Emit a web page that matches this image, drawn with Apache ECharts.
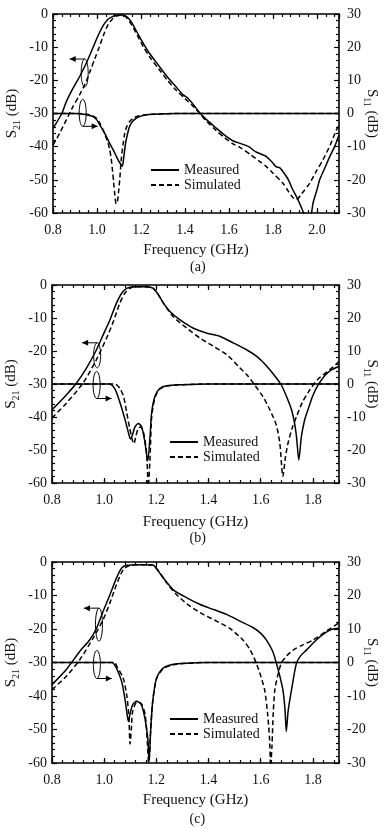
<!DOCTYPE html>
<html><head><meta charset="utf-8">
<script src="https://cdn.jsdelivr.net/npm/echarts/dist/echarts.min.js"></script>
<style>html,body{margin:0;padding:0;background:#fff}#c{width:387px;height:828px}</style>
</head><body><div id="c"></div>
<script>
// ---------- data (frequency GHz, dB) ----------
const panelLabels = ['(a)', '(b)', '(c)'];
const xMin = [0.8, 0.8, 0.8];
const xMax = [2.1, 1.9, 1.9];
const legendNames = ['Measured', 'Simulated'];
const s21Range = [-60, 0];
const s11Range = [-30, 30];

// panel (a)
const a_S21_meas = [[0.80,-34.5],[0.84,-30],[0.86,-26.5],[0.89,-22.5],[0.92,-19],[0.95,-15],[0.97,-12],[0.99,-8.8],[1.01,-5.8],[1.03,-3.3],[1.05,-1.6],[1.07,-0.8],[1.09,-0.4],[1.11,-0.3],[1.13,-0.6],[1.15,-1.8],[1.17,-4],[1.19,-6.5],[1.21,-8.8],[1.24,-12],[1.28,-15.5],[1.32,-19],[1.36,-22],[1.39,-24.3],[1.41,-25.2],[1.44,-27.5],[1.47,-30],[1.50,-32],[1.54,-34.3],[1.58,-36.5],[1.62,-38.3],[1.65,-39],[1.69,-40],[1.72,-41.5],[1.77,-43],[1.80,-45],[1.815,-46.1],[1.83,-46.3],[1.845,-47.5],[1.87,-50],[1.89,-53],[1.91,-55.5],[1.93,-58.5],[1.945,-61],[1.96,-64],[1.974,-60.5],[1.982,-57],[2.00,-53],[2.012,-50],[2.035,-46.5],[2.058,-43],[2.08,-40],[2.10,-36.5]];
const a_S21_sim = [[0.80,-39.5],[0.83,-36],[0.86,-32],[0.89,-28],[0.92,-24.5],[0.95,-20.5],[0.97,-17],[0.99,-13.5],[1.01,-10],[1.03,-6.3],[1.05,-3.3],[1.07,-1.5],[1.09,-0.6],[1.11,-0.4],[1.13,-0.8],[1.15,-2.5],[1.17,-4.8],[1.19,-7.3],[1.21,-9.8],[1.24,-13],[1.28,-16.5],[1.32,-20],[1.36,-23],[1.40,-25.5],[1.44,-28],[1.47,-30.2],[1.50,-32.5],[1.54,-35],[1.58,-37.3],[1.62,-39.2],[1.65,-40.2],[1.70,-42.5],[1.74,-44.5],[1.77,-46],[1.80,-48],[1.845,-51],[1.87,-53.5],[1.89,-55.3],[1.906,-56],[1.93,-54.2],[1.967,-51],[2.00,-47],[2.027,-44],[2.06,-39.5],[2.088,-35],[2.10,-33.5]];
const a_S11_meas = [[0.80,0],[0.90,0],[0.94,-0.2],[0.96,-0.5],[0.982,-0.9],[1.00,-2],[1.012,-3.4],[1.03,-5.3],[1.042,-6.9],[1.06,-9.3],[1.073,-10.9],[1.085,-12.5],[1.095,-13.9],[1.105,-15],[1.115,-15.9],[1.122,-13],[1.13,-8.9],[1.14,-5.8],[1.148,-3.9],[1.16,-2.5],[1.179,-1.4],[1.20,-0.8],[1.224,-0.4],[1.26,-0.2],[1.32,-0.05],[1.40,0],[2.10,0]];
const a_S11_sim = [[0.80,0],[0.92,0],[0.96,-0.3],[0.98,-0.7],[0.997,-1.4],[1.012,-2.8],[1.027,-4.9],[1.04,-7],[1.05,-8.9],[1.058,-11],[1.065,-13.9],[1.071,-17.5],[1.076,-21],[1.081,-24.5],[1.087,-27.2],[1.093,-26.5],[1.099,-23],[1.105,-18.5],[1.11,-14],[1.118,-9.5],[1.126,-6],[1.136,-3.8],[1.148,-2.4],[1.17,-1.2],[1.194,-0.7],[1.225,-0.35],[1.255,-0.2],[1.32,-0.05],[1.40,0],[2.10,0]];

// panel (b)
const b_S21_meas = [[0.80,-37.8],[0.855,-33.3],[0.894,-29.7],[0.932,-25.2],[0.97,-19.7],[0.996,-15.1],[1.022,-10.6],[1.047,-5.5],[1.067,-2.5],[1.086,-1],[1.112,-0.5],[1.163,-0.5],[1.188,-1],[1.208,-3],[1.227,-5.5],[1.253,-8.1],[1.291,-10.6],[1.342,-13.1],[1.394,-14.6],[1.445,-15.6],[1.496,-17.6],[1.547,-19.7],[1.586,-21.7],[1.61,-23.5],[1.635,-25.7],[1.66,-28.2],[1.679,-30.3],[1.70,-34],[1.718,-37.8],[1.73,-42],[1.737,-45.9],[1.746,-53],[1.756,-45.9],[1.768,-41],[1.781,-37.8],[1.80,-33.5],[1.82,-30.3],[1.845,-27.5],[1.871,-25.7],[1.90,-24.7]];
const b_S21_sim = [[0.80,-40.3],[0.855,-35.8],[0.919,-29.7],[0.97,-22.7],[1.009,-16.1],[1.035,-11.1],[1.06,-5.5],[1.079,-2.5],[1.099,-1],[1.125,-0.5],[1.163,-0.5],[1.188,-1],[1.208,-3],[1.227,-5.5],[1.265,-9.6],[1.317,-13.1],[1.368,-16.1],[1.419,-18.6],[1.471,-21.2],[1.519,-25],[1.55,-27.5],[1.577,-30.3],[1.61,-34],[1.635,-37.8],[1.66,-42.5],[1.673,-47.8],[1.685,-58],[1.695,-52],[1.705,-47.8],[1.72,-43.5],[1.737,-39.9],[1.76,-35.5],[1.788,-31.8],[1.82,-28.5],[1.864,-25.7],[1.90,-23.2]];
const b_S11_meas = [[0.80,0],[1.02,0],[1.041,-1.5],[1.06,-5.5],[1.079,-10.5],[1.092,-14.5],[1.101,-16.7],[1.11,-15],[1.118,-13],[1.131,-12],[1.144,-13],[1.156,-17.6],[1.167,-23.3],[1.176,-15.6],[1.182,-8.6],[1.195,-3.6],[1.214,-1.3],[1.24,-0.5],[1.30,-0.2],[1.40,0],[1.90,0]];
const b_S11_sim = [[0.80,0],[1.04,0],[1.06,-1.3],[1.075,-4],[1.086,-8.5],[1.098,-13.5],[1.108,-17],[1.114,-18.1],[1.121,-16],[1.13,-13.5],[1.14,-13],[1.153,-15.5],[1.163,-21.5],[1.169,-31],[1.176,-22],[1.182,-10],[1.195,-4],[1.214,-1.5],[1.24,-0.6],[1.30,-0.2],[1.40,0],[1.90,0]];

// panel (c)
const c_S21_meas = [[0.80,-36.6],[0.855,-32.1],[0.906,-26.7],[0.945,-23.2],[0.971,-19.7],[0.996,-14.7],[1.022,-9.8],[1.047,-4.8],[1.067,-1.8],[1.086,-1],[1.137,-0.8],[1.188,-1],[1.208,-2.8],[1.227,-4.8],[1.265,-8.3],[1.317,-10.7],[1.368,-12.7],[1.419,-14.2],[1.471,-15.7],[1.522,-17.7],[1.573,-19.7],[1.60,-21.3],[1.622,-23.3],[1.645,-26.5],[1.66,-30.2],[1.673,-34],[1.685,-38.2],[1.693,-44],[1.698,-50.6],[1.705,-44.5],[1.718,-38.2],[1.737,-30.2],[1.755,-27.8],[1.775,-26.3],[1.813,-23.3],[1.84,-21.5],[1.87,-20.2],[1.90,-19.8]];
const c_S21_sim = [[0.80,-38.1],[0.855,-34.1],[0.906,-29.2],[0.958,-22.7],[0.996,-17.2],[1.022,-12.2],[1.047,-6.8],[1.073,-2.3],[1.099,-1],[1.15,-0.8],[1.188,-1],[1.214,-3.3],[1.24,-6.3],[1.278,-9.8],[1.329,-13.2],[1.381,-15.7],[1.432,-17.7],[1.483,-19.9],[1.532,-23.3],[1.56,-26.3],[1.583,-30.2],[1.60,-34],[1.615,-38.2],[1.626,-45],[1.634,-53],[1.638,-61],[1.643,-55],[1.648,-45],[1.654,-38.2],[1.665,-34],[1.679,-30.2],[1.70,-28],[1.724,-26.3],[1.76,-24.8],[1.80,-23.3],[1.85,-20.7],[1.90,-18.2]];
const c_S11_meas = [[0.80,0],[1.03,0],[1.047,-1.7],[1.067,-5.7],[1.079,-10.6],[1.088,-15.6],[1.093,-17.6],[1.10,-15],[1.11,-12.5],[1.124,-11.6],[1.135,-12],[1.144,-12.8],[1.156,-16.6],[1.167,-22.5],[1.172,-29.5],[1.178,-20.5],[1.186,-11.6],[1.201,-4.6],[1.227,-1.6],[1.278,-0.4],[1.35,-0.1],[1.40,0],[1.90,0]];
const c_S11_sim = [[0.80,0],[1.04,0],[1.047,-0.9],[1.073,-4.7],[1.088,-10.6],[1.095,-17],[1.099,-24.3],[1.104,-20],[1.109,-14.7],[1.124,-12],[1.135,-12],[1.144,-12.5],[1.157,-15.5],[1.166,-24.5],[1.171,-31],[1.178,-20.5],[1.186,-11.6],[1.201,-4.8],[1.227,-1.8],[1.278,-0.5],[1.35,-0.1],[1.40,0],[1.90,0]];

// ---------- layout / style ----------
const FONT = '"Liberation Serif", "Times New Roman", serif';
const INK = '#111';
const grids = [
  {left: 53, top: 14, width: 286, height: 199},
  {left: 52, top: 285, width: 287, height: 198},
  {left: 52, top: 562, width: 287, height: 201}
];
const xNameGap = [30, 32, 30];
const captionTop = [260, 531, 812];
const legendPos = [{left: 150, top: 163}, {left: 169, top: 435}, {left: 169, top: 712}];
// ellipse + arrow annotations, centre given in (GHz, S21 dB)
const notes = [
  {p: 0, f: 0.944, v: -17.8, ry: 14, dir: 'left'},
  {p: 0, f: 0.935, v: -29.8, ry: 13.5, dir: 'right'},
  {p: 1, f: 0.973, v: -21.3, ry: 12.5, dir: 'left'},
  {p: 1, f: 0.971, v: -30.3, ry: 13.5, dir: 'right'},
  {p: 2, f: 0.980, v: -18.7, ry: 16.5, dir: 'left'},
  {p: 2, f: 0.972, v: -30.6, ry: 14, dir: 'right'}
];

const panelData = [
  [a_S21_meas, a_S21_sim, a_S11_meas, a_S11_sim],
  [b_S21_meas, b_S21_sim, b_S11_meas, b_S11_sim],
  [c_S21_meas, c_S21_sim, c_S11_meas, c_S11_sim]
];

const tickLine = {color: '#000', width: 1.2};
const xAxes = [], yAxes = [], series = [], titles = [], legends = [];
grids.forEach((g, p) => {
  const base = {type: 'value', gridIndex: p, min: xMin[p], max: xMax[p], splitLine: {show: false}};
  // bottom major
  xAxes.push(Object.assign({}, base, {
    position: 'bottom', interval: 0.2,
    axisLine: {show: true, onZero: false, lineStyle: {color: '#000', width: 1.6}},
    axisTick: {show: true, inside: true, length: 5, lineStyle: tickLine},
    axisLabel: {show: true, margin: 10, fontFamily: FONT, fontSize: 14, color: INK,
      showMaxLabel: false, formatter: v => v.toFixed(1)},
    name: 'Frequency (GHz)', nameLocation: 'middle', nameGap: xNameGap[p], nameMoveOverlap: false,
    nameTextStyle: {fontFamily: FONT, fontSize: 15, color: INK}
  }));
  // bottom minor
  xAxes.push(Object.assign({}, base, {
    position: 'bottom', interval: 0.04,
    axisLine: {show: false, onZero: false}, axisLabel: {show: false},
    axisTick: {show: true, inside: true, length: 3, lineStyle: tickLine}
  }));
  // top major
  xAxes.push(Object.assign({}, base, {
    position: 'top', interval: 0.2,
    axisLine: {show: true, onZero: false, lineStyle: {color: '#000', width: 1.6}},
    axisLabel: {show: false},
    axisTick: {show: true, inside: true, length: 5, lineStyle: tickLine}
  }));
  // top minor
  xAxes.push(Object.assign({}, base, {
    position: 'top', interval: 0.04,
    axisLine: {show: false, onZero: false}, axisLabel: {show: false},
    axisTick: {show: true, inside: true, length: 3, lineStyle: tickLine}
  }));
  const nameStyle = {fontFamily: FONT, fontSize: 15, color: INK, lineHeight: 20,
    rich: {sub: {fontFamily: FONT, fontSize: 10, lineHeight: 10, verticalAlign: 'bottom', color: INK}}};
  yAxes.push({
    type: 'value', gridIndex: p, position: 'left', min: s21Range[0], max: s21Range[1], interval: 10,
    splitLine: {show: false},
    axisLine: {show: true, onZero: false, lineStyle: {color: '#000', width: 1.6}},
    axisTick: {show: true, inside: true, length: 5, lineStyle: tickLine},
    minorTick: {show: true, splitNumber: 5, length: 3, lineStyle: tickLine},
    axisLabel: {margin: 5, fontFamily: FONT, fontSize: 14, color: INK},
    name: 'S{sub|21} (dB)', nameLocation: 'middle', nameGap: 31, nameMoveOverlap: false, nameTextStyle: nameStyle
  });
  yAxes.push({
    type: 'value', gridIndex: p, position: 'right', min: s11Range[0], max: s11Range[1], interval: 10,
    splitLine: {show: false},
    axisLine: {show: true, onZero: false, lineStyle: {color: '#000', width: 1.6}},
    axisTick: {show: true, inside: true, length: 5, lineStyle: tickLine},
    minorTick: {show: true, splitNumber: 5, length: 3, lineStyle: tickLine},
    axisLabel: {margin: 8, fontFamily: FONT, fontSize: 14, color: INK},
    name: 'S{sub|11} (dB)', nameLocation: 'middle', nameGap: 23, nameRotate: -90, nameMoveOverlap: false, nameTextStyle: nameStyle
  });
  const d = panelData[p];
  const mk = (name, data, yi, dashed) => ({
    type: 'line', name: name, data: data, xAxisIndex: 4 * p, yAxisIndex: 2 * p + yi,
    symbol: 'none', showSymbol: false, smooth: 0.25, clip: true, silent: true,
    lineStyle: {color: '#000', width: 1.5, type: dashed ? [5, 3] : 'solid'},
    itemStyle: {color: '#000'}
  });
  series.push(mk(legendNames[0], d[0], 0, false));
  series.push(mk(legendNames[1], d[1], 0, true));
  series.push(mk(legendNames[0], d[2], 1, false));
  series.push(mk(legendNames[1], d[3], 1, true));
  titles.push({text: panelLabels[p], left: g.left + g.width / 2 - 6, top: captionTop[p],
    textStyle: {fontFamily: FONT, fontSize: 14, fontWeight: 'normal', color: INK}, padding: 0});
  legends.push({data: legendNames, orient: 'vertical', left: legendPos[p].left, top: legendPos[p].top,
    itemWidth: 28, itemHeight: 10, itemGap: 1, padding: 0, selectedMode: false,
    itemStyle: {opacity: 0, borderWidth: 0},
    textStyle: {fontFamily: FONT, fontSize: 14, color: INK}});
});

const chart = echarts.init(document.getElementById('c'), null, {renderer: 'canvas'});
chart.setOption({
  backgroundColor: '#fff',
  animation: false,
  title: titles,
  legend: legends,
  grid: grids.map(g => Object.assign({containLabel: false, outerBoundsMode: 'none'}, g)),
  xAxis: xAxes,
  yAxis: yAxes,
  series: series
});

// annotations (ellipse + arrow) placed through the axes' own scales
const gfx = [];
notes.forEach(n => {
  const c = chart.convertToPixel({xAxisIndex: 4 * n.p, yAxisIndex: 2 * n.p}, [n.f, n.v]);
  const rx = 3.5, ry = n.ry, pts = [];
  for (let i = 0; i <= 40; i++) {
    const t = i / 40 * Math.PI * 2;
    pts.push([c[0] + rx * Math.cos(t), c[1] + ry * Math.sin(t)]);
  }
  gfx.push({type: 'polyline', shape: {points: pts}, style: {stroke: '#000', fill: null, lineWidth: 1}, z: 100, silent: true});
  let y, x0, x1, head;
  if (n.dir === 'left') {
    y = c[1] - ry; x0 = c[0]; x1 = c[0] - 15;
    head = [[x1, y], [x1 + 6, y - 3], [x1 + 6, y + 3]];
  } else {
    y = c[1] + ry; x0 = c[0]; x1 = c[0] + 15;
    head = [[x1, y], [x1 - 6, y - 3], [x1 - 6, y + 3]];
  }
  gfx.push({type: 'line', shape: {x1: x0, y1: y, x2: x1, y2: y}, style: {stroke: '#000', lineWidth: 1}, z: 100, silent: true});
  gfx.push({type: 'polygon', shape: {points: head}, style: {fill: '#000', stroke: null}, z: 100, silent: true});
});
chart.setOption({graphic: gfx});
</script>
</body></html>
